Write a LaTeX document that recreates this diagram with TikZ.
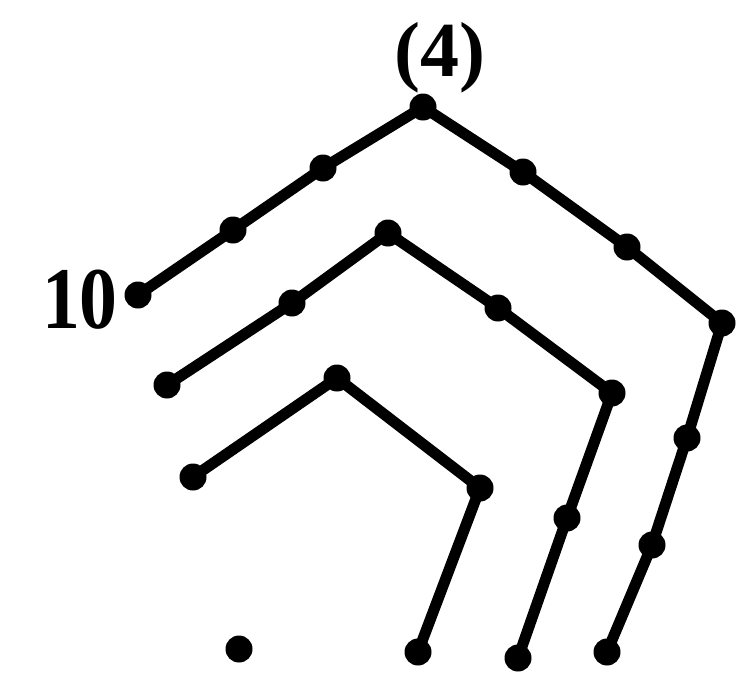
\documentclass[tikz,border=0pt]{standalone}
\usepackage{fontspec}
\setmainfont{Liberation Serif}
\begin{document}
\begin{tikzpicture}[x=1pt,y=-1pt,
  dot/.style={circle,fill=black,inner sep=0pt,minimum size=27pt},
  edge/.style={line width=11pt,line cap=round,line join=round},
  lab/.style={inner sep=0pt,font=\fontsize{78}{80}\selectfont\bfseries}]
\useasboundingbox (0,0) rectangle (736,678);
% outer chain
\node[dot] (o1) at (138,295) {};
\node[dot] (o2) at (233,230) {};
\node[dot] (o3) at (323,168) {};
\node[dot] (o4) at (423,107) {};
\node[dot] (o5) at (523,172) {};
\node[dot] (o6) at (627,247) {};
\node[dot] (o7) at (722,323) {};
\node[dot] (o8) at (687,438) {};
\node[dot] (o9) at (652,545) {};
\node[dot] (o10) at (607,652) {};
% middle chain
\node[dot] (m1) at (167,385) {};
\node[dot] (m2) at (292,303) {};
\node[dot] (m3) at (388,233) {};
\node[dot] (m4) at (498,308) {};
\node[dot] (m5) at (612,393) {};
\node[dot] (m6) at (567,518) {};
\node[dot] (m7) at (518,658) {};
% inner chain
\node[dot] (i1) at (193,477) {};
\node[dot] (i2) at (337,378) {};
\node[dot] (i3) at (480,488) {};
\node[dot] (i4) at (418,652) {};
% lone dot
\node[dot] (l1) at (239,649) {};
% labels
\node[lab,anchor=base] (top) at (440,76) {(4)};
\node[lab,anchor=base east,font=\fontsize{88}{90}\selectfont\bfseries] (ten) at (118,328) {\scalebox{0.86}[1]{10}};
% edges
\draw[edge] (o1.center) -- (o2.center) -- (o3.center) -- (o4.center) -- (o5.center) -- (o6.center) -- (o7.center) -- (o8.center) -- (o9.center) -- (o10.center);
\draw[edge] (m1.center) -- (m2.center) -- (m3.center) -- (m4.center) -- (m5.center) -- (m6.center) -- (m7.center);
\draw[edge] (i1.center) -- (i2.center) -- (i3.center) -- (i4.center);
\end{tikzpicture}
\end{document}
